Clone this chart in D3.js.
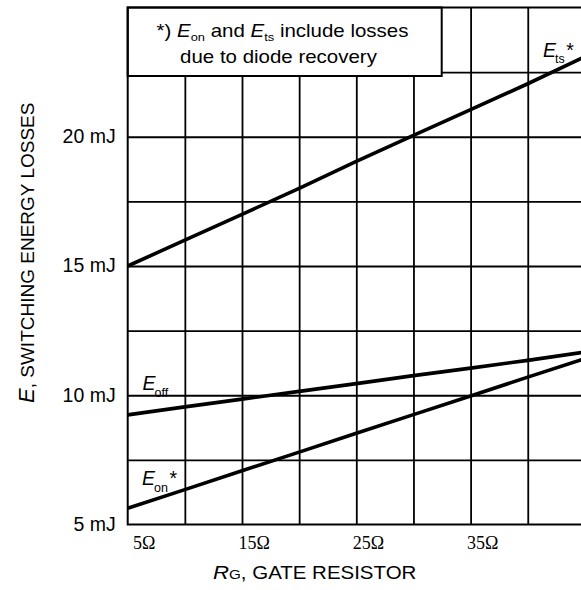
<!DOCTYPE html>
<html>
<head>
<meta charset="utf-8">
<script src="https://cdn.jsdelivr.net/npm/d3@7"></script>
<style>
  html, body { margin: 0; padding: 0; background: #fff; }
  svg { display: block; }
</style>
</head>
<body>
<svg id="chart" width="581" height="590"></svg>
<script>
// Switching energy losses vs. gate resistor
const gateResistance = [5, 10, 15, 20, 25, 30, 35, 40, 45];            // Ω
const energyTs  = [15.0, 16.0, 17.0, 18.0, 19.05, 20.05, 21.05, 22.05, 23.1]; // mJ
const energyOff = [9.24, 9.55, 9.85, 10.15, 10.45, 10.76, 11.05, 11.35, 11.67];
const energyOn  = [5.63, 6.35, 7.08, 7.8, 8.53, 9.25, 9.97, 10.7, 11.42];

const xTickValues = [5, 15, 25, 35];
const xTickLabels = ["5Ω", "15Ω", "25Ω", "35Ω"];
const yTickValues = [5, 10, 15, 20];
const yTickLabels = ["5 mJ", "10 mJ", "15 mJ", "20 mJ"];
const xGridValues = [10, 15, 20, 25, 30, 35, 40];
const yGridValues = [7.5, 10, 12.5, 15, 17.5, 20, 22.5];

const svg = d3.select("#chart");
const W = 581, H = 590;
svg.append("rect").attr("width", W).attr("height", H).attr("fill", "#fff");

const x = d3.scaleLinear().domain([5, 45]).range([127.7, 584.9]);
const y = d3.scaleLinear().domain([5, 25]).range([524.5, 7.5]);
const plotW = x.range()[1] - x.range()[0];
const plotH = y.range()[0] - y.range()[1];

const SANS = "Liberation Sans, Arial, Helvetica, sans-serif";
const SERIF = "Liberation Serif, Times New Roman, serif";

// grid
const gridV = svg.append("g")
  .attr("transform", `translate(0,${y(25)})`)
  .call(d3.axisTop(x).tickValues(xGridValues).tickSize(-plotH).tickFormat(""));
const gridH = svg.append("g")
  .attr("transform", `translate(${x(5)},0)`)
  .call(d3.axisLeft(y).tickValues(yGridValues).tickSize(-plotW).tickFormat(""));
[gridV, gridH].forEach(g => {
  g.select(".domain").remove();
  g.selectAll(".tick line").attr("stroke", "#000").attr("stroke-width", 1.8);
});

// note box
const box = { w: 314, h: 68.5 };
svg.append("rect")
  .attr("x", x(5)).attr("y", y(25))
  .attr("width", box.w).attr("height", box.h)
  .attr("fill", "#fff").attr("stroke", "#000").attr("stroke-width", 2);

// frame
svg.append("rect")
  .attr("x", x(5)).attr("y", y(25))
  .attr("width", plotW).attr("height", plotH)
  .attr("fill", "none").attr("stroke", "#000").attr("stroke-width", 2);

// y tick labels
const yAxis = svg.append("g")
  .attr("transform", `translate(${x(5)},0)`)
  .call(d3.axisLeft(y).tickValues(yTickValues).tickSize(0).tickPadding(12)
        .tickFormat((d, i) => yTickLabels[i]));
yAxis.select(".domain").remove();
yAxis.selectAll("text")
  .attr("font-family", SANS).attr("font-size", 19.5).attr("fill", "#000")
  .attr("dy", "0.3em");

// x tick labels
const xAxis = svg.append("g")
  .attr("transform", `translate(0,${y(5)})`)
  .call(d3.axisBottom(x).tickValues(xTickValues).tickSize(0).tickPadding(0)
        .tickFormat((d, i) => xTickLabels[i]));
xAxis.select(".domain").remove();
xAxis.selectAll("text")
  .attr("font-family", SERIF).attr("font-size", 18).attr("fill", "#000")
  .attr("text-anchor", "end").attr("x", 27.3).attr("y", 24.5).attr("dy", 0);

// curves
const line = d3.line().x((d, i) => x(gateResistance[i])).y(d => y(d));
[energyTs, energyOff, energyOn].forEach(series => {
  svg.append("path")
    .datum(series)
    .attr("d", line)
    .attr("fill", "none")
    .attr("stroke", "#000")
    .attr("stroke-width", 3.6)
    .attr("stroke-linecap", "butt");
});

// horizontally widened text block
function wideText(px, py, sx, anchor) {
  return svg.append("g")
    .attr("transform", `translate(${px},${py}) scale(${sx},1)`)
    .append("text")
    .attr("text-anchor", anchor)
    .attr("font-family", SANS)
    .attr("fill", "#000");
}

// note text
const note1 = wideText(282.5, 36.7, 1.17, "middle").attr("font-size", 17.5);
note1.append("tspan").text("*) ");
note1.append("tspan").attr("font-style", "italic").text("E");
note1.append("tspan").attr("font-size", 11).attr("dy", 4).text("on");
note1.append("tspan").attr("dy", -4).text(" and ");
note1.append("tspan").attr("font-style", "italic").text("E");
note1.append("tspan").attr("font-size", 11).attr("dy", 4).text("ts");
note1.append("tspan").attr("dy", -4).text(" include losses");
wideText(278.5, 62.5, 1.17, "middle").attr("font-size", 17.5).text("due to diode recovery");

// curve labels
function curveLabel(px, py, sub, star) {
  const t = svg.append("text")
    .attr("x", px).attr("y", py)
    .attr("font-family", SANS).attr("font-size", 19.5).attr("fill", "#000");
  t.append("tspan").attr("font-style", "italic").text("E");
  t.append("tspan").attr("font-size", 12.5).attr("dx", -1).attr("dy", 6.5).text(sub);
  if (star) t.append("tspan").attr("dx", 1.5).attr("dy", -6.5).text("*");
}
curveLabel(543, 56.7, "ts", true);
curveLabel(142.5, 390, "off", false);
curveLabel(142, 485, "on", true);

// axis titles
const xTitle = wideText(213, 579, 1.17, "start").attr("font-size", 17.5);
xTitle.append("tspan").attr("font-style", "italic").attr("font-size", 19).text("R");
xTitle.append("tspan").attr("font-size", 13).text("G");
xTitle.append("tspan").text(", GATE RESISTOR");

const yTitle = svg.append("text")
  .attr("transform", "translate(33.5,403) rotate(-90)")
  .attr("text-anchor", "start")
  .attr("font-family", SANS).attr("font-size", 19).attr("fill", "#000");
yTitle.append("tspan").attr("font-style", "italic").attr("font-size", 22).text("E");
yTitle.append("tspan").text(", SWITCHING ENERGY LOSSES");
</script>
</body>
</html>
